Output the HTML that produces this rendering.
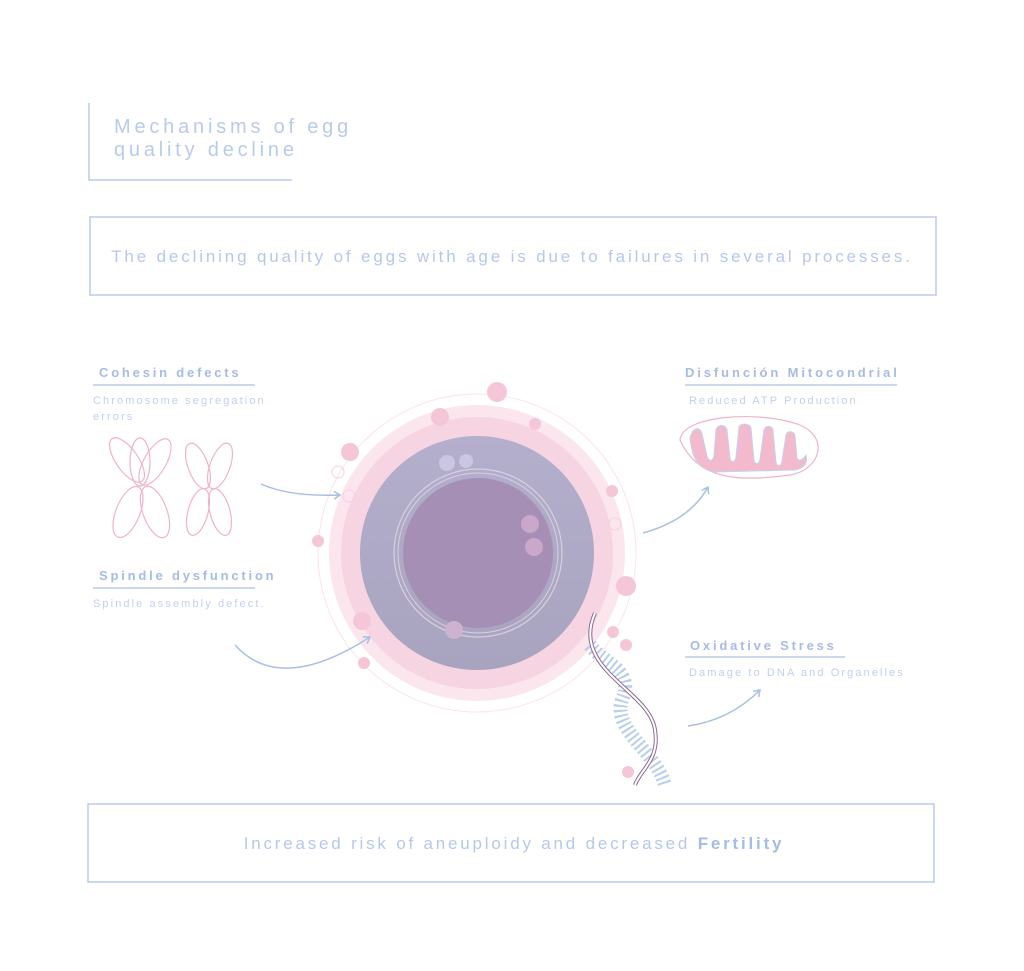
<!DOCTYPE html>
<html><head><meta charset="utf-8"><style>
html,body{margin:0;padding:0;background:#fff;}
svg{display:block;}
text{font-family:"Liberation Sans","DejaVu Sans",sans-serif;}
</style></head><body>
<svg width="1024" height="971" viewBox="0 0 1024 971" xmlns="http://www.w3.org/2000/svg">
<defs>
<linearGradient id="cy" x1="0" y1="0" x2="0" y2="1"><stop offset="0" stop-color="#b4afcc"/><stop offset="1" stop-color="#a8a3bf"/></linearGradient>
<marker id="ah" markerWidth="10" markerHeight="10" refX="7" refY="5" orient="auto" markerUnits="userSpaceOnUse"><path d="M1,1 L7,5 L1,9" fill="none" stroke="#a8bfe6" stroke-width="1.5"/></marker>
</defs>
<!-- title -->
<path d="M89,103 V180 H292" fill="none" stroke="#b9cbec" stroke-width="1.5"/>
<text x="114" y="133" font-size="20" fill="#b8cbec" letter-spacing="3.8">Mechanisms of egg</text>
<text x="114" y="156" font-size="20" fill="#b8cbec" letter-spacing="3.8">quality decline</text>
<!-- box 1 -->
<rect x="90" y="217" width="846" height="78" fill="none" stroke="#b9cbec" stroke-width="1.5"/>
<text x="512" y="262" font-size="17" fill="#b5c8ec" letter-spacing="2.85" text-anchor="middle">The declining quality of eggs with age is due to failures in several processes.</text>
<!-- bottom box -->
<rect x="88" y="804" width="846" height="78" fill="none" stroke="#b9cbec" stroke-width="1.5"/>
<text x="514" y="849" font-size="17" fill="#b5c8ec" letter-spacing="2.8" text-anchor="middle">Increased risk of aneuploidy and decreased <tspan font-weight="bold" fill="#a6bbe6">Fertility</tspan></text>
<!-- left labels -->
<text x="99" y="377" font-size="13" font-weight="bold" fill="#a6bce6" letter-spacing="2.8">Cohesin defects</text>
<line x1="93" y1="385" x2="255" y2="385" stroke="#b9cbec" stroke-width="1.5"/>
<text x="93" y="404" font-size="11" fill="#c0d0ef" letter-spacing="2.1">Chromosome segregation</text>
<text x="93" y="420" font-size="11" fill="#c0d0ef" letter-spacing="2.1">errors</text>
<text x="99" y="580" font-size="13" font-weight="bold" fill="#a6bce6" letter-spacing="2.8">Spindle dysfunction</text>
<line x1="93" y1="588" x2="255" y2="588" stroke="#b9cbec" stroke-width="1.5"/>
<text x="93" y="607" font-size="11" fill="#c0d0ef" letter-spacing="2.1">Spindle assembly defect.</text>
<!-- right labels -->
<text x="685" y="377" font-size="13" font-weight="bold" fill="#a6bce6" letter-spacing="2.9">Disfunción Mitocondrial</text>
<line x1="685" y1="385" x2="897" y2="385" stroke="#b9cbec" stroke-width="1.5"/>
<text x="689" y="404" font-size="11" fill="#c0d0ef" letter-spacing="2.1">Reduced ATP Production</text>
<text x="690" y="650" font-size="13" font-weight="bold" fill="#a6bce6" letter-spacing="2.8">Oxidative Stress</text>
<line x1="685" y1="657" x2="845" y2="657" stroke="#b9cbec" stroke-width="1.5"/>
<text x="689" y="676" font-size="11" fill="#c0d0ef" letter-spacing="2.1">Damage to DNA and Organelles</text>
<!-- chromosomes -->
<g fill="none" stroke="#f0b3c8" stroke-width="1.2">
<ellipse cx="127" cy="460" rx="11" ry="26" transform="rotate(-35 127 460)"/>
<ellipse cx="140" cy="462" rx="10" ry="24"/>
<ellipse cx="155" cy="462" rx="11" ry="26" transform="rotate(30 155 462)"/>
<ellipse cx="128" cy="512" rx="12" ry="27" transform="rotate(22 128 512)"/>
<ellipse cx="155" cy="512" rx="12" ry="27" transform="rotate(-20 155 512)"/>
<ellipse cx="198" cy="466" rx="10" ry="24" transform="rotate(-20 198 466)"/>
<ellipse cx="220" cy="466" rx="10" ry="24" transform="rotate(20 220 466)"/>
<ellipse cx="198" cy="512" rx="10" ry="24" transform="rotate(15 198 512)"/>
<ellipse cx="220" cy="512" rx="10" ry="24" transform="rotate(-15 220 512)"/>
</g>
<!-- egg -->
<circle cx="477" cy="553" r="159" fill="none" stroke="#fbe3ec" stroke-width="1"/>
<circle cx="477" cy="553" r="148" fill="#fbe6ee"/>
<circle cx="477" cy="553" r="136" fill="#f7d4e2"/>
<circle cx="477" cy="553" r="117" fill="url(#cy)"/>
<circle cx="478" cy="553" r="84" fill="none" stroke="#d8cfe0" stroke-width="1.2"/>
<circle cx="478" cy="553" r="80" fill="none" stroke="#d8cfe0" stroke-width="1"/>
<circle cx="478" cy="553" r="75" fill="#a68fb5"/>
<g fill="#f4c6d7">
<circle cx="497" cy="392" r="10"/><circle cx="440" cy="417" r="9"/><circle cx="535" cy="424" r="6"/>
<circle cx="350" cy="452" r="9"/><circle cx="318" cy="541" r="6"/><circle cx="612" cy="491" r="6"/>
<circle cx="626" cy="586" r="10"/><circle cx="362" cy="621" r="9"/><circle cx="364" cy="663" r="6"/>
<circle cx="613" cy="632" r="6"/><circle cx="626" cy="645" r="6"/><circle cx="628" cy="772" r="6"/>
</g>
<g fill="none" stroke="#f6d0dd"><circle cx="338" cy="472" r="6"/><circle cx="349" cy="496" r="6"/><circle cx="615" cy="524" r="6"/></g>
<circle cx="447" cy="463" r="8" fill="#cdc6e2"/><circle cx="466" cy="461" r="7" fill="#cdc6e2"/>
<circle cx="530" cy="524" r="9" fill="#caa8cc"/><circle cx="534" cy="547" r="9" fill="#caa8cc"/>
<circle cx="454" cy="630" r="9" fill="#cdb3d0"/>
<!-- arrows -->
<g fill="none" stroke="#a8bfe6" stroke-width="1.5" marker-end="url(#ah)">
<path d="M261,484 Q290,497 340,495"/>
<path d="M235,645 Q280,695 370,637"/>
<path d="M643,533 Q690,520 708,487"/>
<path d="M688,726 Q730,720 760,690"/>
</g>
<!-- DNA -->
<g fill="none">
<path d="M590,645 C605,665 635,670 622,700 C612,730 655,750 665,785" stroke="#b9cdee" stroke-width="14" stroke-dasharray="2 3"/>
<path d="M595,613 C570,670 650,690 655,730 C660,760 640,770 635,785" stroke="#8c6a92" stroke-width="4"/>
<path d="M595,613 C570,670 650,690 655,730 C660,760 640,770 635,785" stroke="#fff" stroke-width="2"/>
</g>
<!-- mitochondrion -->
<path d="M680,440 C682,415 760,410 800,425 C830,438 820,470 790,475 C750,480 700,485 680,440 Z" fill="#fff" stroke="#f0b3c8" stroke-width="1.2"/>
<path d="M690,438 C692,428 700,425 702,434 L707,456 C709,462 713,462 714,455 L716,430 C717,424 726,424 727,430 L730,458 C731,463 735,463 736,457 L739,427 C740,423 750,423 751,428 L754,460 C755,465 759,465 760,459 L764,430 C765,425 773,425 773,431 L776,462 C777,467 781,467 782,461 L786,435 C787,430 795,431 795,436 L797,458 C799,463 803,459 806,455 C808,462 805,468 795,470 L715,472 C700,470 692,460 690,438 Z" fill="#f3b9cd" stroke="#c4d3f0" stroke-width="1"/>
</svg>
</body></html>
